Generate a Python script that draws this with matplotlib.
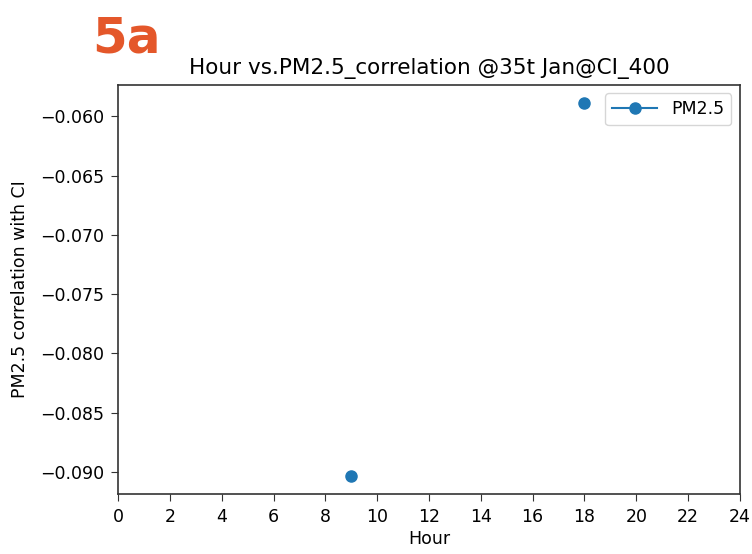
import matplotlib
matplotlib.use("Agg")
import matplotlib.pyplot as plt
import numpy as np

# data
hours = [9, 13, 18]
pm25_corr = [-0.0903, np.nan, -0.0589]  # nan keeps the two points unconnected
x_ticks = list(range(0, 25, 2))

fig = plt.figure(figsize=(7.52, 5.54), dpi=100)
ax = fig.add_axes([0.157, 0.108, 0.827, 0.739])

ax.plot(hours, pm25_corr, marker='o', markersize=8, color='#1f77b4', label='PM2.5')

ax.set_xlim(0, 24)
ax.set_xticks(x_ticks)
ax.tick_params(labelsize=12.5, length=5, pad=5, color='#333333')
for s in ax.spines.values():
    s.set_color('#333333')
    s.set_linewidth(1.2)
ax.set_xlabel('Hour', fontsize=12.5, labelpad=3)
ax.set_ylabel('PM2.5 correlation with CI', fontsize=12.5, labelpad=8)
ax.set_title('Hour vs.PM2.5_correlation @35t Jan@CI_400', fontsize=15.5, pad=8)
ax.legend(loc='upper right', fontsize=12.5, handlelength=2.6)

fig.text(0.122, 0.905, '5a', fontsize=36, fontweight='bold', color='#e4572a')

fig.savefig('out.png', dpi=100)
